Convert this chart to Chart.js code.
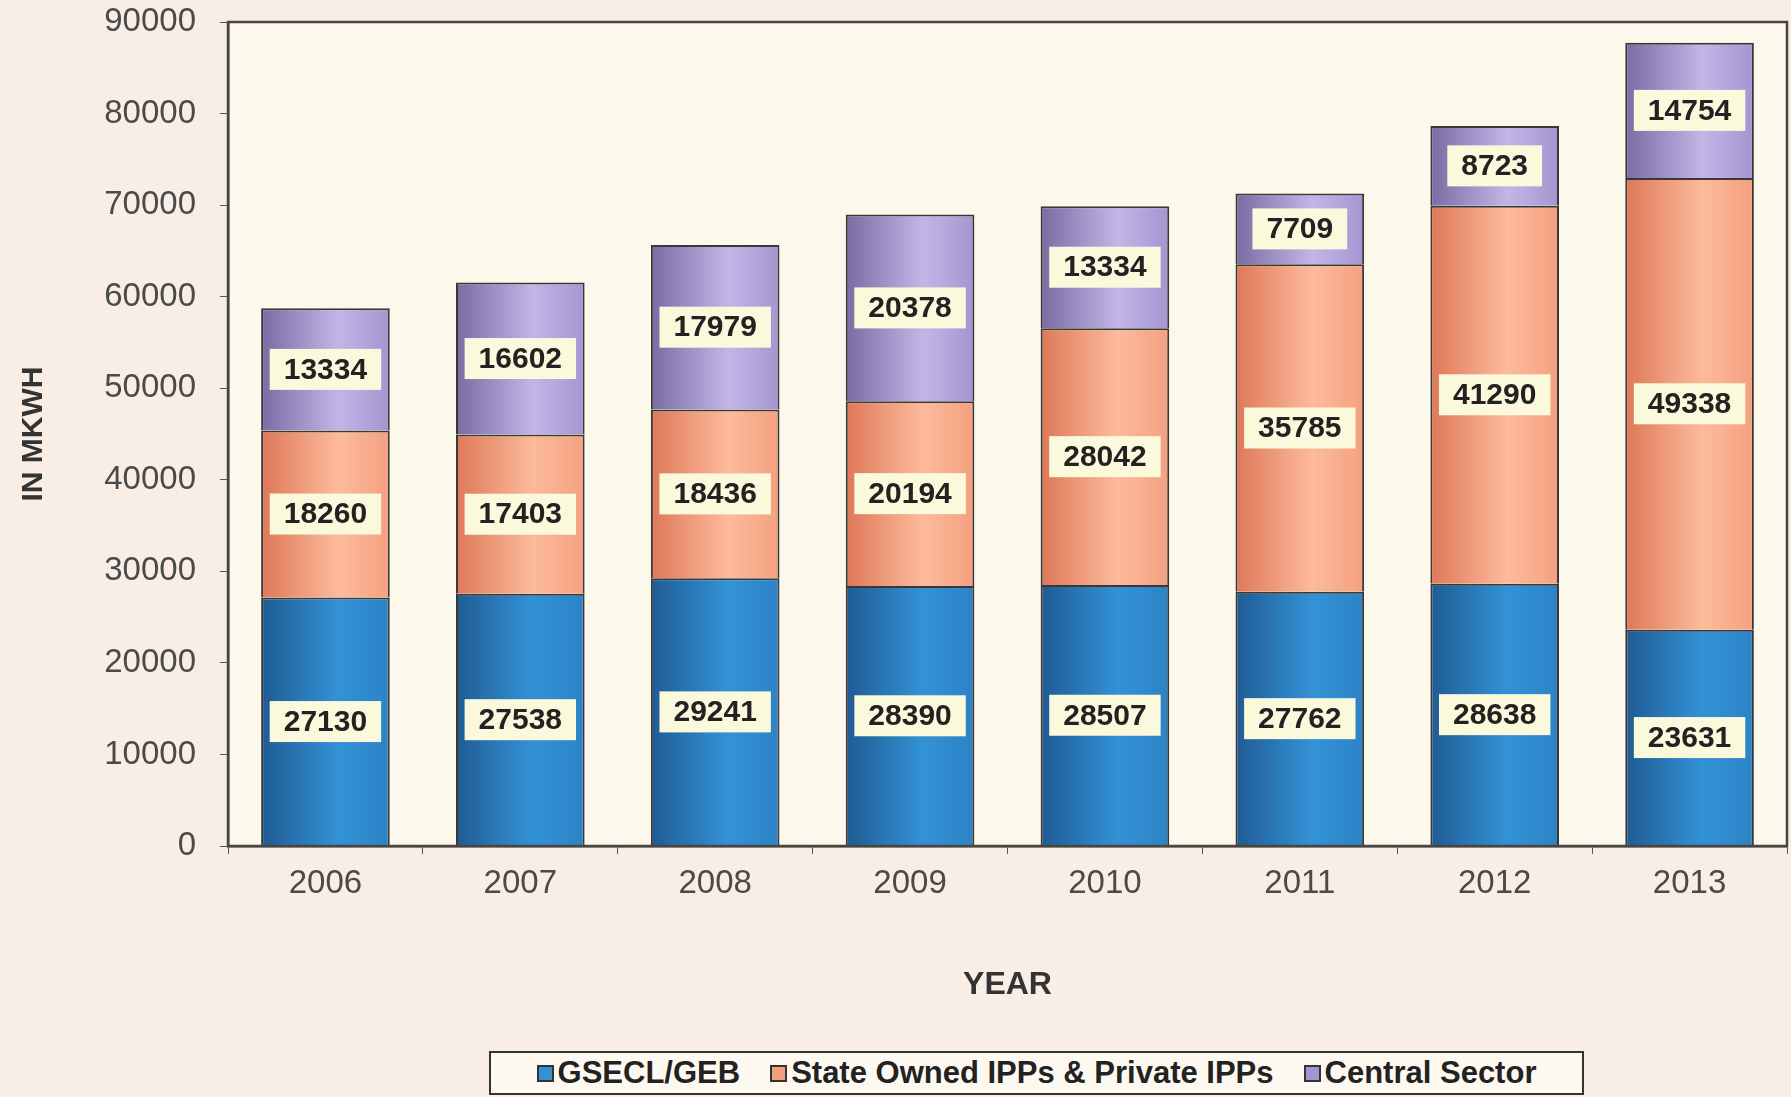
<!DOCTYPE html>
<html>
<head>
<meta charset="utf-8">
<script src="https://cdn.jsdelivr.net/npm/chart.js@4"></script>
<style>
  body { margin: 0; background: #f9eee5; }
  #wrap { position: relative; width: 1791px; height: 1097px; }
  #legend {
    position: absolute; left: 489px; top: 1051px; width: 1091px; height: 40px;
    border: 2px solid #333; background: #fdf9f1;
    display: flex; align-items: center; justify-content: center; gap: 30px;
    font: bold 31px "Liberation Sans", Arial, sans-serif; color: #222;
  }
  #legend span.box { display: inline-block; width: 13px; height: 13px; border: 2px solid #333; margin-right: 4px; vertical-align: 1px; }
</style>
</head>
<body>
<div id="wrap">
  <canvas id="powerChart" width="1791" height="1097"></canvas>
  <div id="legend"></div>
</div>
<script>
// ---- data ----
const years = ["2006", "2007", "2008", "2009", "2010", "2011", "2012", "2013"];
const gseclGeb = [27130, 27538, 29241, 28390, 28507, 27762, 28638, 23631];
const ippsPrivate = [18260, 17403, 18436, 20194, 28042, 35785, 41290, 49338];
const centralSector = [13334, 16602, 17979, 20378, 13334, 7709, 8723, 14754];
const seriesNames = ["GSECL/GEB", "State Owned IPPs & Private IPPs", "Central Sector"];

// left edge / middle / right edge shades for the bar gradients
const blueShades = ["#1f5b93", "#3392d6", "#2c83c6"];
const orangeShades = ["#de7858", "#fcbb9c", "#f4a07f"];
const purpleShades = ["#776ca3", "#c4b5e7", "#a495d1"];

const barPct = 0.66;
const font = "'Liberation Sans', Arial, sans-serif";

function barFill(shades) {
    return (ctx) => {
        const chart = ctx.chart;
        if (!chart.chartArea || ctx.type !== "data") return shades[1];
        const xs = chart.scales.x;
        const x = xs.getPixelForValue(ctx.dataIndex);
        const w = (xs.width / years.length) * barPct;
        const g = chart.ctx.createLinearGradient(x - w / 2, 0, x + w / 2, 0);
        g.addColorStop(0, shades[0]);
        g.addColorStop(0.6, shades[1]);
        g.addColorStop(1, shades[2]);
        return g;
    };
}

// ------------------ backgrounds + frame ------------------
const framePlugin = {
    id: "frame",
    beforeDraw(chart) {
        const { ctx, chartArea: a } = chart;
        ctx.save();
        ctx.fillStyle = "#f9eee5";
        ctx.fillRect(0, 0, chart.width, chart.height);
        ctx.fillStyle = "#fdf8ec";
        ctx.fillRect(a.left, a.top, a.right - a.left, a.bottom - a.top);
        ctx.restore();
    },
    afterDraw(chart) {
        const { ctx, chartArea: a } = chart;
        ctx.save();
        ctx.strokeStyle = "#4a4540";
        ctx.lineWidth = 2.5;
        ctx.strokeRect(a.left, a.top, a.right - a.left, a.bottom - a.top);
        ctx.restore();
    }
};

// ------------------ value boxes in each segment ------------------
const valueBoxes = {
    id: "valueBoxes",
    afterDatasetsDraw(chart) {
        const ctx = chart.ctx;
        ctx.save();
        ctx.font = "bold 30px " + font;
        ctx.textAlign = "center";
        ctx.textBaseline = "middle";
        chart.data.datasets.forEach((ds, i) => {
            chart.getDatasetMeta(i).data.forEach((bar, j) => {
                const cy = (bar.y + bar.base) / 2;
                const txt = String(ds.data[j]);
                const bw = ctx.measureText(txt).width + 28;
                const bh = 41;
                ctx.fillStyle = "#fbf9db";
                ctx.fillRect(bar.x - bw / 2, cy - bh / 2, bw, bh);
                ctx.fillStyle = "#222";
                ctx.fillText(txt, bar.x, cy + 1);
            });
        });
        ctx.restore();
    }
};

const chart = new Chart(document.getElementById("powerChart"), {
    type: "bar",
    data: {
        labels: years,
        datasets: [
            { label: seriesNames[0], data: gseclGeb, backgroundColor: barFill(blueShades), legendColor: blueShades[1] },
            { label: seriesNames[1], data: ippsPrivate, backgroundColor: barFill(orangeShades), legendColor: orangeShades[2] },
            { label: seriesNames[2], data: centralSector, backgroundColor: barFill(purpleShades), legendColor: purpleShades[2] }
        ]
    },
    options: {
        responsive: false,
        animation: false,
        layout: { padding: { top: 22, right: 4, bottom: 93, left: 0 } },
        datasets: {
            bar: { categoryPercentage: 1, barPercentage: barPct, borderColor: "#3a3836", borderWidth: 2 }
        },
        plugins: {
            legend: { display: false },
            tooltip: { enabled: false }
        },
        scales: {
            x: {
                stacked: true,
                grid: { drawOnChartArea: false, drawTicks: true, tickLength: 8, offset: true, color: "#555" },
                border: { display: true, color: "#4a4540", width: 2.5 },
                ticks: { color: "#4a4a4a", padding: 10, font: { family: font, size: 33 } },
                title: {
                    display: true, text: "YEAR", color: "#333",
                    padding: { top: 52, bottom: 0 },
                    font: { family: font, size: 32, weight: "bold" }
                }
            },
            y: {
                stacked: true,
                min: 0,
                max: 90000,
                afterFit(scale) {
                    scale.width = 228;
                    scale.paddingTop = 0;
                },
                grid: { drawOnChartArea: false, drawTicks: true, tickLength: 8, color: "#555" },
                border: { display: true, color: "#4a4540", width: 2.5 },
                ticks: {
                    stepSize: 10000, color: "#4a4a4a", padding: 24,
                    font: { family: font, size: 33 },
                    callback: (v) => String(v)
                },
                title: {
                    display: true, text: "IN MKWH", color: "#333",
                    padding: { top: 16, bottom: 0 },
                    font: { family: font, size: 30, weight: "bold" }
                }
            }
        }
    },
    plugins: [framePlugin, valueBoxes]
});

// ------------------ legend (boxed, under the chart) ------------------
const legendEl = document.getElementById("legend");
chart.data.datasets.forEach((ds) => {
    const item = document.createElement("span");
    const box = document.createElement("span");
    box.className = "box";
    box.style.background = ds.legendColor;
    item.appendChild(box);
    item.appendChild(document.createTextNode(ds.label));
    legendEl.appendChild(item);
});
</script>
</body>
</html>
